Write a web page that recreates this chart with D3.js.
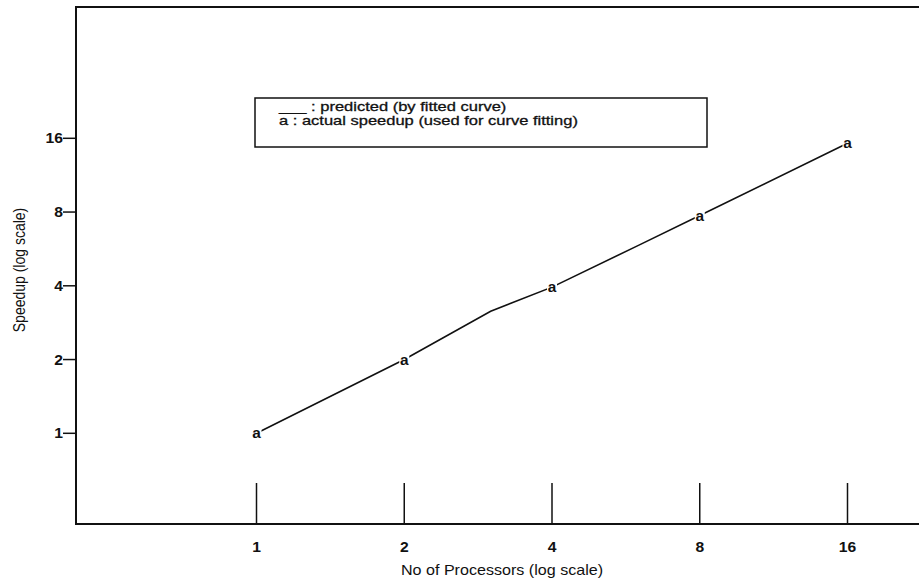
<!DOCTYPE html>
<html>
<head>
<meta charset="utf-8">
<script src="https://cdn.jsdelivr.net/npm/d3@7"></script>
<style>
  body { margin: 0; background: #fff; }
  text { font-family: "Liberation Sans", Arial, sans-serif; fill: #111; }
</style>
</head>
<body>
<div id="canvas"></div>
<script>
// processors and speedups
const processors = [1, 2, 4, 8, 16];
const actualSpeedup = [1, 2, 3.94, 7.73, 15.27];
const predictedProcs = [1, 2, 3, 4, 6, 8, 16];
const predictedSpeedup = [1, 2, 3.15, 3.95, 5.85, 7.75, 15.27];
const yTicks = [1, 2, 4, 8, 16];
const legendLines = ["___ : predicted (by fitted curve)", "a : actual speedup (used for curve fitting)"];

const W = 919, H = 587;
// frame: left 76, top 7, bottom 524, right runs off the page
const frame = { left: 76, top: 7, bottom: 524, right: 940 };

let svg = d3.select("#canvas").append("svg")
  .attr("width", W).attr("height", H);

let x = d3.scaleLog().base(2).domain([1, 16]).range([256.5, 847.5]);
let y = d3.scaleLog().base(2).domain([1, 16]).range([433.3, 138.3]);

// helper: horizontally stretched text (the scan is wider than tall)
function stext(g, tx, ty, str, size, sx, anchor, weight) {
  return g.append("text")
    .attr("transform", "translate(" + tx + "," + ty + ") scale(" + sx + ",1)")
    .attr("text-anchor", anchor)
    .style("font-size", size + "px")
    .style("font-weight", weight || "normal")
    .text(str);
}

// frame
svg.append("rect")
  .attr("x", frame.left).attr("y", frame.top)
  .attr("width", frame.right - frame.left).attr("height", frame.bottom - frame.top)
  .attr("fill", "none").attr("stroke", "#111").attr("stroke-width", 2);

// x ticks: tall marks rising from the bottom edge
let xt = svg.append("g");
processors.forEach(function (p) {
  xt.append("line")
    .attr("x1", x(p)).attr("x2", x(p))
    .attr("y1", frame.bottom).attr("y2", frame.bottom - 41)
    .attr("stroke", "#111").attr("stroke-width", 1.5);
  stext(xt, x(p), 552, String(p), 14, 1.12, "middle", "bold");
});

// y ticks: short marks on the outside of the left edge
let yt = svg.append("g");
yTicks.forEach(function (v) {
  yt.append("line")
    .attr("x1", frame.left - 13).attr("x2", frame.left)
    .attr("y1", y(v)).attr("y2", y(v))
    .attr("stroke", "#111").attr("stroke-width", 1.5);
  stext(yt, frame.left - 13, y(v) + 5, String(v), 14, 1.12, "end", "bold");
});

// axis titles
stext(svg, 502, 575, "No of Processors (log scale)", 14, 1.15, "middle");
svg.append("text")
  .attr("transform", "translate(25,270) rotate(-90) scale(1,1.15)")
  .attr("text-anchor", "middle")
  .style("font-size", "14px")
  .text("Speedup (log scale)");

// predicted curve
let line = d3.line()
  .x(function (d) { return x(d[0]); })
  .y(function (d) { return y(d[1]); });

svg.append("path")
  .datum(d3.zip(predictedProcs, predictedSpeedup))
  .attr("d", line)
  .attr("fill", "none")
  .attr("stroke", "#111")
  .attr("stroke-width", 1.6);

// actual points drawn as the letter "a"
let pts = svg.append("g");
processors.forEach(function (p, i) {
  pts.append("rect")
    .attr("x", x(p) - 5).attr("y", y(actualSpeedup[i]) - 5)
    .attr("width", 10).attr("height", 10).attr("fill", "#fff");
  stext(pts, x(p), y(actualSpeedup[i]) + 5, "a", 14, 1.1, "middle", "bold");
});

// legend box
let lg = svg.append("g");
lg.append("rect")
  .attr("x", 255).attr("y", 98).attr("width", 452).attr("height", 49)
  .attr("fill", "#fff").attr("stroke", "#111").attr("stroke-width", 1.5);
legendLines.forEach(function (s, i) {
  stext(lg, 279, 111 + i * 13.5, s, 13, 1.27, "start")
    .style("stroke", "#111").style("stroke-width", 0.3);
});
</script>
</body>
</html>
